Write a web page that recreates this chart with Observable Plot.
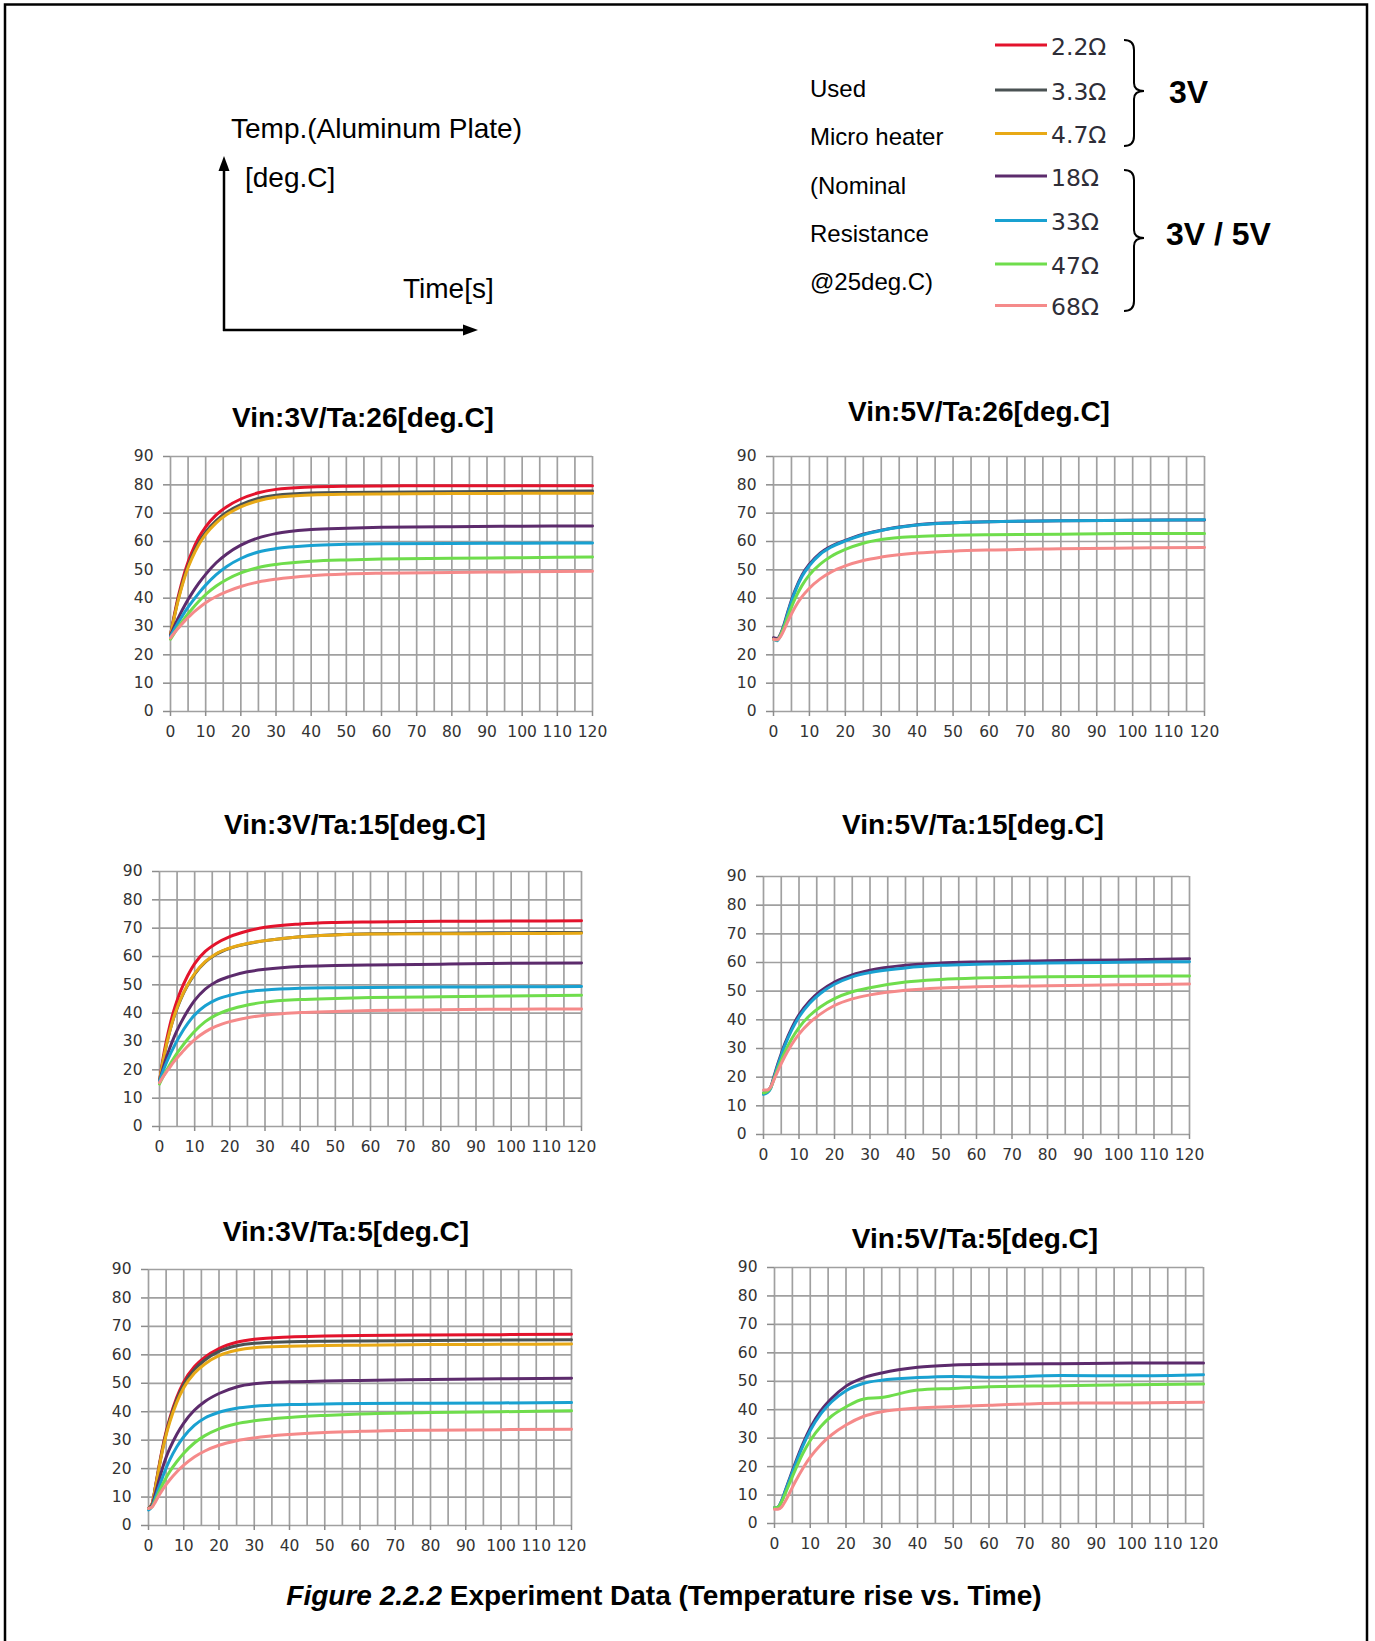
<!DOCTYPE html>
<html>
<head>
<meta charset="utf-8">
<script src="https://cdn.jsdelivr.net/npm/d3@7"></script>
<script src="https://cdn.jsdelivr.net/npm/@observablehq/plot@0.6"></script>
<style>
  body { margin: 0; background: #fff; }
  #root { position: relative; width: 1375px; height: 1641px; overflow: hidden; background: #fff; }
  .panel { position: absolute; }
  #overlay { position: absolute; left: 0; top: 0; pointer-events: none; }
</style>
</head>
<body>
<div id="root"></div>
<script>
// ---------------- DATA ----------------
const seriesNames  = ["2.2Ω", "3.3Ω", "4.7Ω", "18Ω", "33Ω", "47Ω", "68Ω"];
const seriesColors = ["#e3132c", "#4a5253", "#e8a916", "#5c2b6c", "#19a1d1", "#6fdd4c", "#f58a8a"];
const xTicks = [0, 10, 20, 30, 40, 50, 60, 70, 80, 90, 100, 110, 120];
const yTicks = [0, 10, 20, 30, 40, 50, 60, 70, 80, 90];
const times  = [0, 1, 2, 3, 4, 5, 6, 8, 10, 13, 16, 20, 25, 30, 40, 50, 60, 80, 100, 120];

// Vin:3V / Ta:26 — 2.2, 3.3, 4.7, 18, 33, 47, 68 Ω
const v3ta26_22  = [27, 33.5, 39.5, 44.5, 49, 52.8, 56, 61.3, 65.2, 69.4, 72.3, 75, 77.2, 78.4, 79.2, 79.5, 79.6, 79.7, 79.7, 79.7];
const v3ta26_33  = [27, 33, 38.7, 43.5, 47.8, 51.4, 54.5, 59.5, 63.3, 67.4, 70.3, 73, 75.2, 76.3, 77.1, 77.3, 77.4, 77.6, 77.7, 77.8];
const v3ta26_47  = [27, 32.8, 38.3, 43, 47.2, 50.8, 53.8, 58.8, 62.5, 66.6, 69.5, 72.2, 74.4, 75.6, 76.4, 76.7, 76.8, 76.9, 77, 77];
const v3ta26_18  = [27, 29.8, 32.5, 35, 37.3, 39.5, 41.5, 45.2, 48.4, 52.5, 55.6, 58.7, 61.3, 62.8, 64.2, 64.7, 65, 65.2, 65.4, 65.5];
const v3ta26_330 = [26.5, 28.8, 31, 33, 35, 36.8, 38.5, 41.7, 44.6, 48.3, 51.2, 54, 56.3, 57.5, 58.6, 59, 59.2, 59.3, 59.4, 59.5];
const v3ta26_470 = [25.5, 27.5, 29.4, 31.2, 32.9, 34.5, 36, 38.8, 41.3, 44.3, 46.6, 48.9, 50.8, 51.9, 53, 53.5, 53.8, 54.1, 54.3, 54.5];
const v3ta26_680 = [26, 27.6, 29.1, 30.5, 31.9, 33.2, 34.4, 36.5, 38.4, 40.6, 42.3, 44.1, 45.7, 46.7, 47.9, 48.5, 48.8, 49.1, 49.3, 49.5];

// Vin:3V / Ta:15
const v3ta15_22  = [16, 24, 30.5, 36, 40.6, 44.5, 47.8, 53.2, 57.5, 61.8, 64.5, 67, 69, 70.3, 71.5, 72, 72.2, 72.4, 72.5, 72.6];
const v3ta15_33  = [16, 23, 29, 34, 38.2, 41.7, 44.8, 49.8, 53.8, 58, 60.7, 62.9, 64.5, 65.6, 67, 67.7, 68, 68.2, 68.4, 68.5];
const v3ta15_47  = [16, 23, 29, 34, 38.3, 41.9, 45, 50, 54, 58.2, 60.9, 63, 64.6, 65.6, 67, 67.6, 67.9, 68, 68.1, 68.2];
const v3ta15_18  = [16, 20.5, 24.5, 28, 31.1, 33.9, 36.4, 40.8, 44.5, 48.5, 51, 53, 54.6, 55.5, 56.5, 56.8, 57, 57.3, 57.6, 57.7];
const v3ta15_330 = [16, 19.5, 22.6, 25.4, 27.9, 30.3, 32.5, 36.3, 39.4, 42.6, 44.7, 46.3, 47.6, 48.2, 48.8, 49, 49.1, 49.2, 49.3, 49.4];
const v3ta15_470 = [15, 17.5, 19.8, 22, 24, 25.9, 27.6, 30.8, 33.6, 37, 39.3, 41.3, 42.9, 43.9, 44.8, 45.2, 45.5, 45.8, 46.1, 46.3];
const v3ta15_680 = [15.5, 17.5, 19.3, 21, 22.7, 24.2, 25.6, 28.3, 30.7, 33.4, 35.3, 37, 38.4, 39.3, 40.2, 40.6, 40.9, 41.2, 41.4, 41.5];

// Vin:3V / Ta:5
const v3ta5_22  = [6, 7.5, 14, 21, 27.5, 33, 37.6, 45, 50.5, 55.8, 59.2, 62.2, 64.4, 65.5, 66.3, 66.6, 66.8, 67, 67.1, 67.2];
const v3ta5_33  = [6, 7.5, 13.8, 20.6, 27, 32.4, 37, 44.2, 49.6, 54.8, 58.2, 61.2, 63.2, 64.1, 64.6, 64.8, 64.9, 65, 65.2, 65.3];
const v3ta5_47  = [6, 7.5, 13.6, 20.3, 26.5, 31.8, 36.2, 43.2, 48.4, 53.5, 56.8, 59.7, 61.6, 62.5, 63, 63.3, 63.4, 63.6, 63.7, 63.8];
const v3ta5_18  = [6, 7.2, 11.5, 16, 20.3, 24, 27, 32, 36, 40.5, 43.6, 46.4, 48.7, 49.8, 50.5, 50.8, 51, 51.3, 51.6, 51.8];
const v3ta5_330 = [5.5, 6.7, 10, 13.6, 17, 20.2, 23, 27.6, 31.2, 35.2, 37.8, 39.8, 41.2, 41.9, 42.5, 42.7, 42.9, 43, 43.1, 43.2];
const v3ta5_470 = [6, 6.6, 9, 11.8, 14.4, 16.8, 18.9, 22.4, 25.4, 29, 31.6, 34, 35.8, 36.8, 38, 38.7, 39.2, 39.7, 40, 40.3];
const v3ta5_680 = [6, 6.5, 8.4, 10.6, 12.6, 14.4, 16, 18.8, 21.2, 24.1, 26.2, 28.2, 29.8, 30.8, 32, 32.7, 33.1, 33.5, 33.7, 33.8];

// Vin:5V / Ta:26 — 18, 33, 47, 68 Ω
const v5ta26_18  = [26, 25.8, 27.5, 31, 35.3, 39.3, 42.8, 48.3, 52, 55.9, 58.3, 60.4, 62.6, 64, 65.9, 66.6, 67, 67.3, 67.5, 67.6];
const v5ta26_330 = [25.5, 25, 27, 30.5, 34.8, 38.8, 42.3, 47.8, 51.5, 55.5, 58, 60.2, 62.4, 63.9, 65.8, 66.6, 67, 67.3, 67.5, 67.7];
const v5ta26_470 = [25.5, 25.3, 27, 30, 33.5, 36.8, 39.8, 44.6, 48.2, 52, 54.7, 57.2, 59.4, 60.7, 61.8, 62.2, 62.4, 62.6, 62.8, 62.8];
const v5ta26_680 = [25.5, 25.3, 26.5, 29, 31.8, 34.4, 36.8, 40.6, 43.5, 46.8, 49.2, 51.4, 53.3, 54.5, 55.9, 56.6, 57, 57.4, 57.7, 57.9];

// Vin:5V / Ta:15
const v5ta15_18  = [14.5, 15, 16.5, 20.5, 24.5, 28.2, 31.6, 37.3, 41.8, 46.6, 50, 53.2, 55.7, 57.3, 59, 59.8, 60.2, 60.6, 60.9, 61.3];
const v5ta15_330 = [14, 14.5, 16, 20, 24, 27.6, 31, 36.6, 41, 45.8, 49.2, 52.4, 55, 56.5, 58.1, 59, 59.4, 59.8, 60.1, 60.3];
const v5ta15_470 = [14.5, 15, 16.3, 19.5, 22.8, 25.9, 28.7, 33.5, 37.3, 41.5, 44.5, 47.4, 49.8, 51.2, 53.2, 54.1, 54.6, 55, 55.2, 55.3];
const v5ta15_680 = [15.5, 15.5, 16.5, 19.2, 22, 24.7, 27.2, 31.5, 35, 39, 42, 45, 47.3, 48.7, 50.3, 51.1, 51.5, 51.9, 52.2, 52.5];

// Vin:5V / Ta:5
const v5ta5_18  = [5.5, 5.8, 8, 11.5, 15, 18.5, 21.9, 28.2, 33.6, 39.7, 44, 48.3, 51.3, 52.9, 54.9, 55.7, 56, 56.2, 56.4, 56.4];
const v5ta5_330 = [5.5, 5.8, 8, 11.3, 14.7, 18, 21.3, 27.5, 32.7, 38.6, 42.8, 46.7, 49.3, 50.4, 51.3, 51.7, 51.4, 52, 51.9, 52.3];
const v5ta5_470 = [5.5, 5.8, 7.6, 10.5, 13.5, 16.5, 19.4, 24.8, 29.2, 34.2, 37.8, 41, 43.8, 44.3, 46.9, 47.5, 48.1, 48.4, 48.8, 49];
const v5ta5_680 = [5, 5, 5.8, 7.8, 10.2, 12.7, 15.1, 19.5, 23.3, 27.8, 31.2, 34.6, 37.7, 39.3, 40.6, 41.1, 41.6, 42.3, 42.4, 42.6];

const panelTitles = [
  "Vin:3V/Ta:26[deg.C]", "Vin:5V/Ta:26[deg.C]",
  "Vin:3V/Ta:15[deg.C]", "Vin:5V/Ta:15[deg.C]",
  "Vin:3V/Ta:5[deg.C]",  "Vin:5V/Ta:5[deg.C]"
];

// ---------------- LAYOUT ----------------
const panels = [
  { title: panelTitles[0], names: seriesNames, values: [v3ta26_22, v3ta26_33, v3ta26_47, v3ta26_18, v3ta26_330, v3ta26_470, v3ta26_680],
    box: { x0: 170, x1: 592, y0: 456, y1: 711 }, tx: 363, ty: 427 },
  { title: panelTitles[1], names: seriesNames.slice(3), values: [v5ta26_18, v5ta26_330, v5ta26_470, v5ta26_680],
    box: { x0: 773, x1: 1204, y0: 456, y1: 711 }, tx: 979, ty: 421 },
  { title: panelTitles[2], names: seriesNames, values: [v3ta15_22, v3ta15_33, v3ta15_47, v3ta15_18, v3ta15_330, v3ta15_470, v3ta15_680],
    box: { x0: 159, x1: 581, y0: 871, y1: 1126 }, tx: 355, ty: 834 },
  { title: panelTitles[3], names: seriesNames.slice(3), values: [v5ta15_18, v5ta15_330, v5ta15_470, v5ta15_680],
    box: { x0: 763, x1: 1189, y0: 876, y1: 1134 }, tx: 973, ty: 834 },
  { title: panelTitles[4], names: seriesNames, values: [v3ta5_22, v3ta5_33, v3ta5_47, v3ta5_18, v3ta5_330, v3ta5_470, v3ta5_680],
    box: { x0: 148, x1: 571, y0: 1269, y1: 1525 }, tx: 346, ty: 1241 },
  { title: panelTitles[5], names: seriesNames.slice(3), values: [v5ta5_18, v5ta5_330, v5ta5_470, v5ta5_680],
    box: { x0: 774, x1: 1203, y0: 1267, y1: 1523 }, tx: 975, ty: 1248 }
];

const root = document.getElementById("root");
const mL = 60, mT = 12, mR = 30, mB = 40;

for (const p of panels) {
  const rows = [];
  p.names.forEach((name, i) => {
    times.forEach((t, j) => rows.push({ t, v: p.values[i][j], s: name }));
  });
  const w = p.box.x1 - p.box.x0 + mL + mR;
  const h = p.box.y1 - p.box.y0 + mT + mB;
  const chart = Plot.plot({
    width: w, height: h,
    marginLeft: mL, marginTop: mT, marginRight: mR, marginBottom: mB,
    style: { background: "transparent", fontFamily: "'DejaVu Sans', sans-serif", fontSize: "15.5px", overflow: "visible" },
    x: { domain: [0, 120] },
    y: { domain: [0, 90] },
    color: { domain: seriesNames, range: seriesColors },
    marks: [
      Plot.gridX(d3.range(0, 121, 5), { stroke: "#a0a0a0", strokeOpacity: 1, strokeWidth: 1.7 }),
      Plot.gridY(yTicks, { stroke: "#a0a0a0", strokeOpacity: 1, strokeWidth: 1.7 }),
      Plot.axisX(xTicks, { tickSize: 5, tickPadding: 9, stroke: "#8c8c8c", fill: "#333", strokeWidth: 1.5, label: null }),
      Plot.axisY(yTicks, { tickSize: 7, tickPadding: 10, stroke: "#8c8c8c", fill: "#333", strokeWidth: 1.5, label: null }),
      Plot.line(rows, { x: "t", y: "v", z: "s", stroke: "s", strokeWidth: 3, curve: "monotone-x", strokeLinejoin: "round" })
    ]
  });
  const holder = document.createElement("div");
  holder.className = "panel";
  holder.style.left = (p.box.x0 - mL) + "px";
  holder.style.top = (p.box.y0 - mT) + "px";
  holder.appendChild(chart);
  root.appendChild(holder);
}

// ---------------- OVERLAY (titles, header, legend, caption) ----------------
const NS = "http://www.w3.org/2000/svg";
const ov = document.createElementNS(NS, "svg");
ov.setAttribute("id", "overlay");
ov.setAttribute("width", 1375);
ov.setAttribute("height", 1641);
root.appendChild(ov);

function el(tag, attrs, text) {
  const e = document.createElementNS(NS, tag);
  for (const k in attrs) e.setAttribute(k, attrs[k]);
  if (text != null) e.textContent = text;
  ov.appendChild(e);
  return e;
}

// outer frame
el("rect", { x: 5, y: 4.5, width: 1362, height: 1660, fill: "none", stroke: "#000", "stroke-width": 2.5 });

const sans = "'Liberation Sans', Arial, sans-serif";

// panel titles
for (const p of panels) {
  el("text", { x: p.tx, y: p.ty, "text-anchor": "middle", "font-family": sans,
    "font-weight": "bold", "font-size": 28, fill: "#000" }, p.title);
}

// axis sketch in header
el("text", { x: 231, y: 138, "font-family": sans, "font-size": 28, fill: "#000" }, "Temp.(Aluminum Plate)");
el("text", { x: 245, y: 187, "font-family": sans, "font-size": 28, fill: "#000" }, "[deg.C]");
el("text", { x: 403, y: 298, "font-family": sans, "font-size": 28, fill: "#000" }, "Time[s]");
el("line", { x1: 224, y1: 331, x2: 224, y2: 168, stroke: "#000", "stroke-width": 2.5 });
el("path", { d: "M224,156 L218.5,171 L229.5,171 Z", fill: "#000" });
el("line", { x1: 223, y1: 330, x2: 465, y2: 330, stroke: "#000", "stroke-width": 2.5 });
el("path", { d: "M478,330 L463,324.5 L463,335.5 Z", fill: "#000" });

// legend side text
const sideText = ["Used", "Micro heater", "(Nominal", "Resistance", "@25deg.C)"];
const sideY = [97, 145, 194, 242, 290];
sideText.forEach((s, i) => el("text", { x: 810, y: sideY[i], "font-family": sans, "font-size": 24, fill: "#000" }, s));

// legend entries
const legY = [46, 91, 134.5, 177, 221.5, 265, 306.5];
seriesNames.forEach((s, i) => {
  el("line", { x1: 995, x2: 1047, y1: legY[i] - 1, y2: legY[i] - 1, stroke: seriesColors[i], "stroke-width": 3.2 });
  el("text", { x: 1051, y: legY[i] + 8.5, "font-family": "'DejaVu Sans', sans-serif", "font-size": 23.5, fill: "#2e2e38" }, s);
});

// braces
function brace(top, mid, bottom) {
  const xl = 1124, xv = 1134, xp = 1144;
  const d = `M${xl},${top} Q${xv},${top} ${xv},${top + 10} L${xv},${mid - 8} Q${xv},${mid} ${xp},${mid} ` +
            `Q${xv},${mid} ${xv},${mid + 8} L${xv},${bottom - 10} Q${xv},${bottom} ${xl},${bottom}`;
  el("path", { d, fill: "none", stroke: "#000", "stroke-width": 2 });
}
brace(40, 91, 146);
brace(170, 238, 311);
el("text", { x: 1169, y: 102.5, "font-family": sans, "font-weight": "bold", "font-size": 32, fill: "#000" }, "3V");
el("text", { x: 1166, y: 244.5, "font-family": sans, "font-weight": "bold", "font-size": 32, fill: "#000" }, "3V / 5V");

// caption
const cap = el("text", { x: 664, y: 1605, "text-anchor": "middle", "font-family": sans, "font-weight": "bold", "font-size": 28, fill: "#000" });
const t1 = document.createElementNS(NS, "tspan");
t1.setAttribute("font-style", "italic");
t1.textContent = "Figure 2.2.2";
cap.appendChild(t1);
const t2 = document.createElementNS(NS, "tspan");
t2.textContent = " Experiment Data (Temperature rise vs. Time)";
cap.appendChild(t2);
</script>
</body>
</html>
